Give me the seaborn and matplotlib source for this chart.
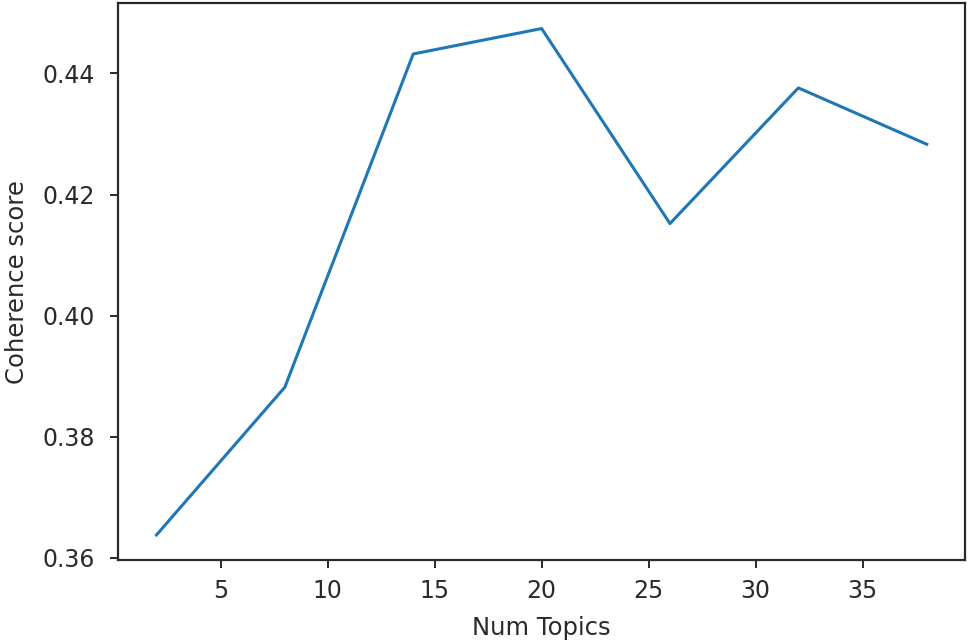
import matplotlib
matplotlib.use("Agg")
import matplotlib.pyplot as plt
import seaborn as sns
import pandas as pd

num_topics = [2, 8, 14, 20, 26, 32, 38]
coherence = [0.3638, 0.3882, 0.4432, 0.4474, 0.4152, 0.4376, 0.4283]

df = pd.DataFrame({"Num Topics": num_topics, "Coherence score": coherence})

fig = plt.figure(figsize=(9.75, 6.44), dpi=100)
ax = fig.add_axes([0.121, 0.130, 0.869, 0.865])
sns.lineplot(data=df, x="Num Topics", y="Coherence score", ax=ax,
             color="#1f77b4", linewidth=2.2)
ax.set_xticks([5, 10, 15, 20, 25, 30, 35])
ax.set_yticks([0.36, 0.38, 0.40, 0.42, 0.44])
ax.set_yticklabels(["0.36", "0.38", "0.40", "0.42", "0.44"])
ax.tick_params(labelsize=17, length=5.5, width=1.4, colors="#2a2a2a")
ax.tick_params(axis="x", pad=8)
ax.tick_params(axis="y", pad=11)
for s in ax.spines.values():
    s.set_linewidth(1.6)
    s.set_color("#2a2a2a")
ax.set_xlabel("Num Topics", fontsize=17.5, color="#2a2a2a", labelpad=9)
ax.set_ylabel("Coherence score", fontsize=17.5, color="#2a2a2a", labelpad=10)
fig.savefig("out.png", dpi=100)
